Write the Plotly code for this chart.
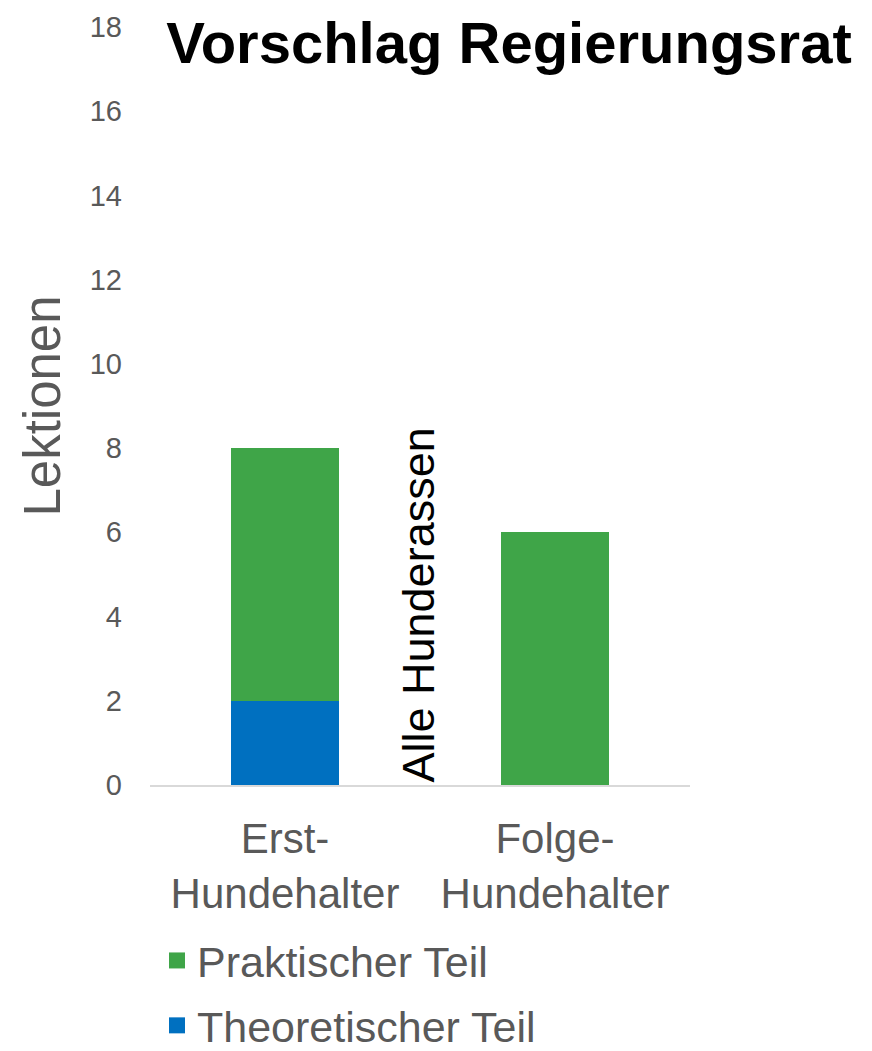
import plotly.graph_objects as go

categories = ["Erst-<br>Hundehalter", "Folge-<br>Hundehalter"]
series_names = ["Theoretischer Teil", "Praktischer Teil"]
theoretisch = [2, 0]
praktisch = [6, 6]
y_ticks = [0, 2, 4, 6, 8, 10, 12, 14, 16, 18]

GRAY = "#595959"
BLUE = "#0070C0"
GREEN = "#3FA548"
FONT = "Liberation Sans, Arial, sans-serif"
OFF = 8  # page body offset

fig = go.Figure()
fig.add_trace(go.Bar(x=[0, 1], y=theoretisch, name=series_names[0],
                     marker=dict(color=BLUE, line=dict(width=0)),
                     showlegend=False, width=0.4))
fig.add_trace(go.Bar(x=[0, 1], y=praktisch, name=series_names[1],
                     marker=dict(color=GREEN, line=dict(width=0)),
                     showlegend=False, width=0.4))
# legend entries
fig.add_trace(go.Scatter(x=[None], y=[None], mode="markers", name=series_names[1],
                         marker=dict(symbol="square", size=16, color=GREEN),
                         legendgroup="p", legendrank=1))
fig.add_trace(go.Scatter(x=[None], y=[None], mode="markers", name=series_names[0],
                         marker=dict(symbol="square", size=16, color=BLUE),
                         legendgroup="t", legendrank=2))

fig.add_annotation(x=0.5, y=0, xref="x", yref="y", text="Alle Hunderassen",
                   textangle=-90, showarrow=False, yanchor="bottom", xanchor="center",
                   xshift=-2, font=dict(family=FONT, size=45, color="black"))

fig.update_layout(
    width=872, height=1051,
    barmode="stack",
    plot_bgcolor="white", paper_bgcolor="white",
    margin=dict(l=150 - OFF, r=872 - 690 + OFF, t=27 - OFF, b=1051 - 785 + OFF, autoexpand=False),
    title=dict(text="<b>Vorschlag Regierungsrat</b>", x=(509 - OFF) / 872, xanchor="center",
               xref="container", y=1 - (43 - OFF) / 1051, yanchor="middle", yref="container",
               font=dict(family=FONT, size=58, color="black")),
    xaxis=dict(range=[-0.5, 1.5], tickvals=[0, 1], ticktext=categories, tickangle=0,
               showline=True, linecolor="#D9D9D9", linewidth=2, showgrid=False,
               ticks="", ticklabelstandoff=16,
               tickfont=dict(family=FONT, size=42, color=GRAY), zeroline=False),
    yaxis=dict(range=[0, 18], tickvals=y_ticks, showgrid=False, zeroline=False,
               showline=False, ticks="", ticklabelstandoff=27,
               tickfont=dict(family=FONT, size=29, color=GRAY),
               title=dict(text="Lektionen", font=dict(family=FONT, size=51, color=GRAY), standoff=12)),
    legend=dict(orientation="v", x=7 / 540, y=(785 - 926) / 758,
                xanchor="left", yanchor="top", traceorder="grouped", tracegroupgap=6,
                font=dict(family=FONT, size=43, color=GRAY), bgcolor="rgba(0,0,0,0)"),
    showlegend=True,
)

fig.write_html("out.html")
